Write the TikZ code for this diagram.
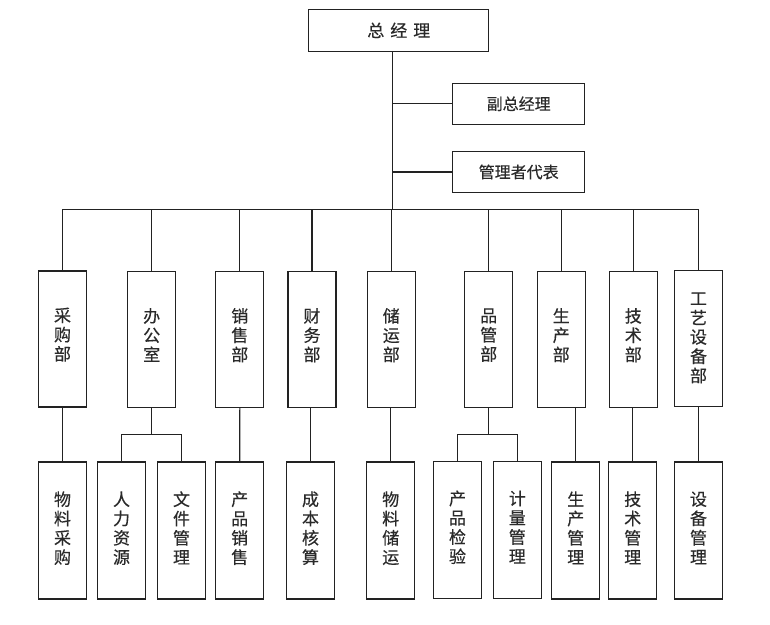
\documentclass[tikz,border=0pt]{standalone}
\usepackage{fontspec}
\newfontfamily\cjk[FakeBold=0.35]{Noto Sans CJK SC}
\definecolor{ln}{HTML}{222222}
\definecolor{tx}{HTML}{2A2A2A}
\newcommand{\updn}[1]{\rule[-#1]{0pt}{0pt}}
\tikzset{
  hbox/.style={draw=ln, line width=1.1pt, fill=white, text=tx, inner sep=0pt, font=\cjk\fontsize{16}{19}\selectfont},
  vbox/.style={draw=ln, line width=1.1pt, fill=white, text=tx, inner sep=0pt, align=center,
    minimum width=48pt, font=\cjk\fontsize{17}{19.3}\selectfont},
  lvtwo/.style={vbox, minimum height=136pt},
  lvthree/.style={vbox, minimum height=137pt},
  conn/.style={draw=ln, line width=1.1pt}
}
\begin{document}
\begin{tikzpicture}[x=1pt,y=-1pt]
\useasboundingbox (0,0) rectangle (770,624);
% top
\node[hbox, minimum width=180pt, minimum height=42pt, font=\cjk\fontsize{17}{19}\selectfont] (zjl) at (398.8,30.3) {总\hspace{0.35em}经\hspace{0.35em}理};
\node[hbox, minimum width=132pt, minimum height=41pt] (fzjl) at (518.7,103.8) {副总经理};
\node[hbox, minimum width=132pt, minimum height=41pt] (glz) at (518.7,172) {管理者代表};
\coordinate (t) at (392.6,209.3);
\coordinate (bl) at (62.5,209.3);
\coordinate (br) at (698.5,209.3);
% level 2
\node[lvtwo] (cg) at (62.5,339) {采\\购\\部\updn{10pt}};
\node[lvtwo] (bgs) at (151.7,339.5) {办\\公\\室\updn{10pt}};
\node[lvtwo] (xs) at (239.8,339.5) {销\\售\\部\updn{10pt}};
\node[lvtwo] (cw) at (312,339.5) {财\\务\\部\updn{10pt}};
\node[lvtwo] (cy) at (391.3,339.5) {储\\运\\部\updn{10pt}};
\node[lvtwo] (pg) at (488.7,339.5) {品\\管\\部\updn{10pt}};
\node[lvtwo] (sc) at (561.2,339.5) {生\\产\\部\updn{10pt}};
\node[lvtwo] (js) at (633.3,339.5) {技\\术\\部\updn{10pt}};
\node[lvtwo] (gy) at (698.5,338.7) {工\\艺\\设\\备\\部\updn{3pt}};
% level 3
\node[lvthree] (wlcg) at (62.5,530.5) {物\\料\\采\\购\updn{6pt}};
\node[lvthree] (rlzy) at (121.5,530.5) {人\\力\\资\\源\updn{6pt}};
\node[lvthree] (wjgl) at (181.5,530.5) {文\\件\\管\\理\updn{6pt}};
\node[lvthree] (cpxs) at (239.7,530.5) {产\\品\\销\\售\updn{6pt}};
\node[lvthree] (cbhs) at (310.5,530.5) {成\\本\\核\\算\updn{6pt}};
\node[lvthree] (wlcy) at (390.7,530.5) {物\\料\\储\\运\updn{6pt}};
\node[lvthree] (cpjy) at (457.5,529.7) {产\\品\\检\\验\updn{6pt}};
\node[lvthree] (jlgl) at (517.3,529.7) {计\\量\\管\\理\updn{6pt}};
\node[lvthree] (scgl) at (575.7,530.5) {生\\产\\管\\理\updn{6pt}};
\node[lvthree] (jsgl) at (632.7,530.5) {技\\术\\管\\理\updn{6pt}};
\node[lvthree] (sbgl) at (698.5,530.5) {设\\备\\管\\理\updn{6pt}};
% connectors top
\draw[conn] (zjl.south -| t) -- (t);
\draw[conn] (t |- fzjl.west) -- (fzjl.west);
\draw[conn] (t |- glz.west) -- (glz.west);
\draw[conn] (bl) -- (br);
\foreach \n in {cg,bgs,xs,cw,cy,pg,sc,js,gy}
  \draw[conn] (\n.north) -- (\n.north |- t);
% connectors bottom
\draw[conn] (cg.south) -- (wlcg.north);
\draw[conn] (bgs.south) -- ++(0,26.8) coordinate (bgsj);
\draw[conn] (rlzy.north) |- (bgsj) -| (wjgl.north);
\draw[conn] (xs.south) -- (cpxs.north);
\draw[conn] (cbhs.north |- cw.south) -- (cbhs.north);
\draw[conn] (wlcy.north |- cy.south) -- (wlcy.north);
\draw[conn] (pg.south) -- ++(0,26.8) coordinate (pgj);
\draw[conn] (cpjy.north) |- (pgj) -| (jlgl.north);
\draw[conn] (scgl.north |- sc.south) -- (scgl.north);
\draw[conn] (jsgl.north |- js.south) -- (jsgl.north);
\draw[conn] (sbgl.north |- gy.south) -- (sbgl.north);
\end{tikzpicture}
\end{document}
